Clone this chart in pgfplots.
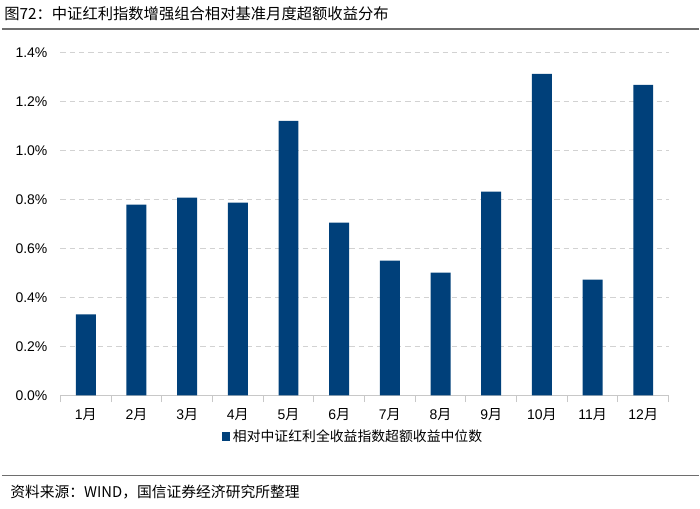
\documentclass[border=0pt]{standalone}
\usepackage{pgfplots}
\pgfplotsset{compat=1.18}
\usepackage{fontspec}
\setmainfont{Liberation Sans}
\newfontfamily\cjk{Noto Sans CJK SC}
\definecolor{barblue}{RGB}{0,64,122}
\definecolor{gridgray}{RGB}{210,210,210}
\definecolor{axisgray}{RGB}{200,200,200}
\definecolor{rulegray}{RGB}{110,110,110}
\begin{document}
\begin{tikzpicture}
\path (0pt,0pt) rectangle (525pt,381.75pt);
\node[anchor=west,inner sep=0pt,font=\cjk\fontsize{11.5}{13}\selectfont] at (3pt,371.25pt) {图72：中证红利指数增强组合相对基准月度超额收益分布};
\draw[rulegray,line width=1.5pt] (1.5pt,360pt) -- (525pt,360pt);
\draw[rulegray,line width=0.8pt] (1.5pt,24.4pt) -- (525pt,24.4pt);
\node[anchor=west,inner sep=0pt,font=\cjk\fontsize{11.1}{12}\selectfont] at (7.5pt,12pt) {资料来源：WIND，国信证券经济研究所整理};
\begin{axis}[
  at={(45.4pt,84.75pt)}, anchor=south west,
  scale only axis, width=456.75pt, height=257.25pt,
  xmin=0.5, xmax=12.5, ymin=0, ymax=1.4,
  ybar, bar width=15pt,
  axis y line*=left, axis x line*=bottom,
  y axis line style={draw=none},
  x axis line style={axisgray, line width=0.8pt},
  xtick={1,...,12},
  xticklabels={{1{\cjk 月}},{2{\cjk 月}},{3{\cjk 月}},{4{\cjk 月}},{5{\cjk 月}},{6{\cjk 月}},{7{\cjk 月}},{8{\cjk 月}},{9{\cjk 月}},{10{\cjk 月}},{11{\cjk 月}},{12{\cjk 月}}},
  major x tick style={draw=none},
  minor xtick={0.5,1.5,...,12.5},
  minor x tick style={axisgray, line width=0.8pt},
  minor tick length=5pt, tick align=outside,
  ytick={0,0.2,...,1.4},
  major y tick style={draw=none},
  ymajorgrids, grid style={gridgray, dashed, line width=0.8pt, dash pattern=on 4pt off 3pt},
  /pgf/number format/assume math mode=true,
  yticklabel={\pgfmathprintnumber[fixed,fixed zerofill,precision=1]{\tick}\%},
  ticklabel style={font=\fontsize{10.5}{12}\selectfont},
  yticklabel style={xshift=-2pt},
  xticklabel style={yshift=-2pt},
  legend style={at={(0.482,-0.12)}, anchor=center, draw=none, font=\cjk\fontsize{10.4}{12}\selectfont, inner sep=0pt},
  legend image code/.code={\fill[#1] (0pt,-3.2pt) rectangle (6pt,3.2pt);},
]
\addplot[fill=barblue, draw=none] coordinates {(1,0.331) (2,0.780) (3,0.808) (4,0.788) (5,1.122) (6,0.706) (7,0.551) (8,0.502) (9,0.833) (10,1.314) (11,0.473) (12,1.269)};
\addlegendentry{相对中证红利全收益指数超额收益中位数}
\end{axis}
\end{tikzpicture}
\end{document}
